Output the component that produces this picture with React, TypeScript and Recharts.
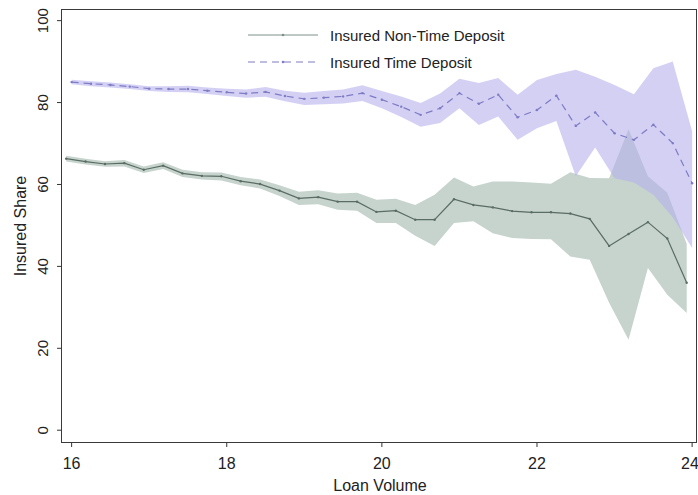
import React from "react";
import {
  ComposedChart,
  Area,
  Line,
  XAxis,
  YAxis,
  Label,
} from "recharts";

// x positions (the non-time series sits a little left of the time series)
const xNonTime = [
  15.93, 16.18, 16.43, 16.68, 16.93, 17.18, 17.43, 17.68, 17.93, 18.18, 18.43,
  18.68, 18.93, 19.18, 19.43, 19.68, 19.93, 20.18, 20.43, 20.68, 20.93, 21.18,
  21.43, 21.68, 21.93, 22.18, 22.43, 22.68, 22.93, 23.18, 23.43, 23.68, 23.93,
];
const xTime = [
  16, 16.25, 16.5, 16.75, 17, 17.25, 17.5, 17.75, 18, 18.25, 18.5, 18.75, 19,
  19.25, 19.5, 19.75, 20, 20.25, 20.5, 20.75, 21, 21.25, 21.5, 21.75, 22, 22.25,
  22.5, 22.75, 23, 23.25, 23.5, 23.75, 24,
];

const nonTime = [
  66.3, 65.6, 65.0, 65.2, 63.6, 64.6, 62.7, 62.1, 62.0, 60.8, 60.1, 58.5, 56.6,
  56.9, 55.8, 55.8, 53.3, 53.6, 51.4, 51.4, 56.4, 55.0, 54.4, 53.5, 53.2, 53.2,
  52.9, 51.6, 45.0, 47.9, 50.8, 46.8, 36.0,
];
const nonTimeLo = [
  65.6, 64.9, 64.3, 64.4, 62.8, 63.8, 61.8, 61.2, 61.0, 59.8, 59.0, 57.2, 55.0,
  55.2, 53.8, 53.6, 50.6, 50.6, 47.5, 45.0, 50.6, 51.0, 48.1, 46.9, 46.7, 46.6,
  42.4, 41.6, 31.1, 22.1, 39.6, 33.1, 28.6,
];
const nonTimeHi = [
  67.0, 66.3, 65.7, 66.0, 64.4, 65.4, 63.6, 63.0, 62.9, 61.8, 61.2, 59.8, 58.2,
  58.6, 57.8, 58.0, 56.3, 56.5, 55.0, 57.5, 61.7, 59.5, 60.7, 60.7, 60.5, 60.2,
  63.0, 61.6, 61.5, 73.5, 62.0, 58.0, 45.5,
];

const time = [
  85.0, 84.6, 84.3, 83.9, 83.4, 83.3, 83.3, 82.9, 82.5, 82.2, 82.6, 81.6, 80.9,
  81.2, 81.5, 82.3, 80.7, 79.0, 77.0, 78.6, 82.3, 79.7, 81.9, 76.4, 78.2, 81.7,
  74.3, 77.6, 72.5, 70.9, 74.6, 70.1, 60.3,
];
const timeLo = [
  84.5, 84.0, 83.7, 83.3, 82.8, 82.6, 82.5, 82.1, 81.6, 81.2, 81.4, 80.3, 79.4,
  79.6, 79.8, 80.4, 78.6, 76.5, 74.1, 75.0, 78.6, 74.5, 76.6, 70.9, 73.7, 75.5,
  62.0, 69.0, 61.5, 60.5, 57.5, 52.0, 44.5,
];
const timeHi = [
  85.6, 85.2, 84.9, 84.5, 84.0, 84.0, 84.1, 83.7, 83.4, 83.2, 83.8, 82.9, 82.4,
  82.8, 83.2, 84.2, 82.8, 81.5, 79.9, 82.2, 85.8, 84.8, 86.0, 81.9, 85.5, 87.0,
  88.0, 86.3, 84.3, 82.0, 88.4, 90.0, 73.0,
];

const xTicks = [16, 18, 20, 22, 24];
const yTicks = [0, 20, 40, 60, 80, 100];

const FONT = '"Liberation Sans", Arial, sans-serif';
const GREEN_LINE = "#5a6c64";
const GREEN_BAND = "#c6d4cd";
const PURPLE_LINE = "#7f7bc4";
const PURPLE_BAND = "#b6b1ec";

const nonTimeRows = xNonTime.map((x, i) => ({
  x,
  v: nonTime[i],
  band: [nonTimeLo[i], nonTimeHi[i]],
}));
const timeRows = xTime.map((x, i) => ({
  x,
  v: time[i],
  band: [timeLo[i], timeHi[i]],
}));

const YTick = (props: any) => {
  const { y, payload } = props;
  return (
    <text
      x={48}
      y={y}
      transform={`rotate(-90, 48, ${y})`}
      textAnchor="middle"
      fontSize={15}
      fill="#222"
      fontFamily={FONT}
    >
      {payload.value}
    </text>
  );
};

const XTick = (props: any) => {
  const { x, payload } = props;
  return (
    <text x={x} y={469} textAnchor="middle" fontSize={16} fill="#222" fontFamily={FONT}>
      {payload.value}
    </text>
  );
};

const LegendRow = ({ top, label, dashed, color }: any) => (
  <div style={{ position: "absolute", left: 246, top, height: 16, display: "flex", alignItems: "center" }}>
    <svg width={74} height={16}>
      <line
        x1={2}
        x2={72}
        y1={8}
        y2={8}
        stroke={color}
        strokeWidth={1}
        strokeDasharray={dashed ? "7 5" : undefined}
      />
      <circle cx={37} cy={8} r={1.3} fill={color} />
    </svg>
    <span style={{ marginLeft: 10, fontSize: 15, color: "#222", fontFamily: FONT, whiteSpace: "nowrap" }}>
      {label}
    </span>
  </div>
);

export default function App() {
  return (
    <div style={{ position: "absolute", left: 0, top: 0, width: 698, height: 495, background: "#fff" }}>
      <ComposedChart
        width={698}
        height={495}
        margin={{ top: 10, right: 2, left: 32, bottom: 13 }}
      >
        <XAxis
          type="number"
          dataKey="x"
          domain={[15.876, 24.05]}
          allowDataOverflow
          ticks={xTicks}
          axisLine={false}
          tickLine={{ stroke: "#333" }}
          tickSize={5}
          height={40}
          tick={<XTick />}
        >
          <Label
            content={() => (
              <text x={380} y={491} textAnchor="middle" fontSize={16} fill="#222" fontFamily={FONT}>
                Loan Volume
              </text>
            )}
          />
        </XAxis>
        <YAxis
          type="number"
          domain={[-2.88, 102.6]}
          allowDataOverflow
          ticks={yTicks}
          axisLine={false}
          tickLine={{ stroke: "#333" }}
          tickSize={5}
          width={30}
          tick={<YTick />}
        >
          <Label
            content={() => (
              <text
                x={26}
                y={226}
                transform="rotate(-90, 26, 226)"
                textAnchor="middle"
                fontSize={16}
                fill="#222"
                fontFamily={FONT}
              >
                Insured Share
              </text>
            )}
          />
        </YAxis>
        <Area
          data={nonTimeRows}
          dataKey="band"
          type="linear"
          stroke="none"
          fill={GREEN_BAND}
          fillOpacity={1}
          isAnimationActive={false}
        />
        <Area
          data={timeRows}
          dataKey="band"
          type="linear"
          stroke="none"
          fill={PURPLE_BAND}
          fillOpacity={0.6}
          isAnimationActive={false}
        />
        <Line
          data={nonTimeRows}
          dataKey="v"
          type="linear"
          stroke={GREEN_LINE}
          strokeWidth={1.2}
          dot={{ r: 1.2, fill: GREEN_LINE, stroke: "none" }}
          isAnimationActive={false}
        />
        <Line
          data={timeRows}
          dataKey="v"
          type="linear"
          stroke={PURPLE_LINE}
          strokeWidth={1.2}
          strokeDasharray="7 5"
          dot={{ r: 1.2, fill: PURPLE_LINE, stroke: "none" }}
          isAnimationActive={false}
        />
      </ComposedChart>
      <div
        style={{
          position: "absolute",
          left: 61,
          top: 9,
          width: 634,
          height: 432,
          border: "1.5px solid #3a3a3a",
          pointerEvents: "none",
        }}
      />
      <LegendRow top={27} label="Insured Non-Time Deposit" color="#7d918a" />
      <LegendRow top={54} label="Insured Time Deposit" color={PURPLE_LINE} dashed />
    </div>
  );
}
